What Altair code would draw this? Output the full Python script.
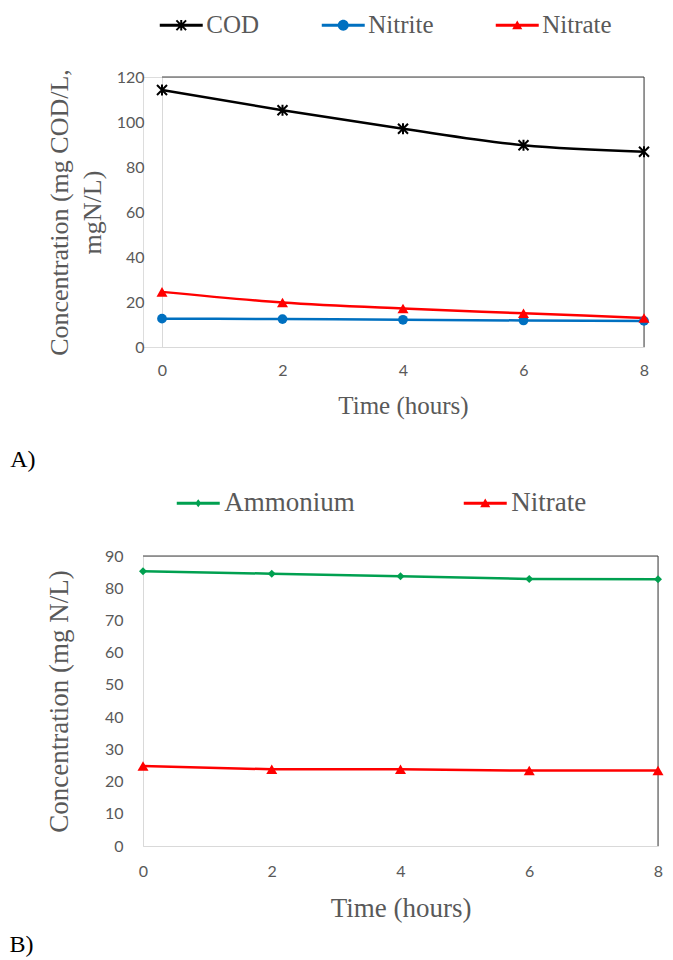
import altair as alt
import pandas as pd

# ---------------- data ----------------
time_h = [0, 2, 4, 6, 8]

a_series = ["COD", "Nitrite", "Nitrate"]
a_colors = ["#000000", "#0070C0", "#FF0000"]
a_cod = [114.2, 105.2, 97.0, 89.7, 86.8]
a_nitrite = [12.6, 12.4, 12.1, 11.8, 11.6]
a_nitrate = [24.5, 19.8, 17.1, 15.0, 12.9]

b_series = ["Ammonium", "Nitrate"]
b_colors = ["#00A050", "#FF0000"]
b_ammonium = [85.3, 84.5, 83.7, 82.9, 82.8]
b_nitrate = [24.8, 23.8, 23.8, 23.4, 23.4]

y_ticks_a = [0, 20, 40, 60, 80, 100, 120]
y_ticks_b = [0, 10, 20, 30, 40, 50, 60, 70, 80, 90]
x_ticks = [0, 2, 4, 6, 8]

SERIF = "Liberation Serif"
SANS = "Lato"
GREY = "#595959"


def frame(series, colors, values):
    rows = []
    for s, c, vals in zip(series, colors, values):
        for t, v in zip(time_h, vals):
            rows.append({"time": t, "value": v, "series": s, "col": c})
    return pd.DataFrame(rows)


df_a = frame(a_series, a_colors, [a_cod, a_nitrite, a_nitrate])
df_b = frame(b_series, b_colors, [b_ammonium, b_nitrate])

# legend symbols: line segment (x from -2 to 2) with the marker in the middle
BAR = "M-2,-0.14H2V0.14H-2Z"
LEG_STAR = (BAR +
            "M-0.384,-0.516L0.516,0.384L0.384,0.516L-0.516,-0.384Z"
            "M-0.516,0.384L0.384,-0.516L0.516,-0.384L-0.384,0.516Z"
            "M-0.093,-0.5L0.093,-0.5L0.093,0.5L-0.093,0.5Z")
LEG_CIRCLE = BAR + "M-0.51,0A0.51,0.51 0 1,1 0.51,0A0.51,0.51 0 1,1 -0.51,0Z"
LEG_TRI = BAR + "M-0.47,0.37L0,-0.44L0.47,0.37Z"
LEG_DIAMOND = BAR + "M0,-0.37L0.28,0L0,0.37L-0.28,0Z"

STAR = "M-1,-1L1,1M-1,1L1,-1M0,-1.1L0,1.1"
LEG_SIZE = 462  # sqrt = 21.5 -> symbol drawn 43 px wide


def panel(df, series, colors, marker_specs, legend_paths, ymax, yticks,
          ytitle, width, x0, height, interp, leg_x, leg_y, leg_font,
          col_pad, tag, tag_offset, tag_dx, ytitle_size, ytitle_pad,
          ylab_pad, xlab_pad, xtitle_pad, xtitle_size, title_lh):
    xscale = alt.Scale(domain=[0, 8], nice=False, range=[x0, width])
    yscale = alt.Scale(domain=[0, ymax], nice=False)
    xaxis = alt.Axis(values=x_ticks, title="Time (hours)", grid=False,
                     ticks=False, domainColor="#d9d9d9", format="d",
                     labelFont=SANS, labelFontSize=16, labelColor=GREY,
                     labelPadding=xlab_pad, titleFont=SERIF,
                     titleFontSize=xtitle_size,
                     titleColor=GREY, titleFontWeight="normal",
                     titlePadding=xtitle_pad, labelFlush=False,
                     labelOverlap=False)
    yaxis = alt.Axis(values=yticks, title=ytitle, grid=False,
                     ticks=False, domainColor="#d9d9d9", format="d",
                     labelFont=SANS, labelFontSize=16, labelColor=GREY,
                     labelPadding=ylab_pad, titleFont=SERIF,
                     titleFontSize=ytitle_size, titleColor=GREY,
                     titleFontWeight="normal", titleLineHeight=title_lh,
                     titlePadding=ytitle_pad, labelFlush=False,
                     labelOverlap=False, offset=-x0)
    x = alt.X("time:Q", scale=xscale, axis=xaxis)
    y = alt.Y("value:Q", scale=yscale, axis=yaxis)
    base = alt.Chart(df)
    # plot frame: top and right edges, drawn through the scales
    edge_df = pd.DataFrame({
        "time": [time_h[0], time_h[-1]], "x2": [time_h[-1], time_h[-1]],
        "value": [ymax, 0], "y2": [ymax, ymax],
    })
    edges = alt.Chart(edge_df).mark_rule(color="#404040", strokeWidth=1).encode(
        x=x, x2="x2:Q", y=y, y2="y2:Q",
    )
    lines = base.mark_line(strokeWidth=2.5, interpolate=interp).encode(
        x=x, y=y,
        stroke=alt.Stroke("col:N", scale=None),
        detail="series:N",
    )
    layers = [lines, edges]
    for s, c, (shape, size, filled, sw) in zip(series, colors, marker_specs):
        pts = base.transform_filter(alt.datum.series == s).mark_point(
            shape=shape, size=size, filled=filled, opacity=1,
            color=c, strokeWidth=sw,
        ).encode(x=x, y=y)
        layers.append(pts)
    leg = alt.Legend(orient="none", legendX=leg_x, legendY=leg_y,
                     direction="horizontal", title=None, padding=0,
                     symbolSize=LEG_SIZE, symbolStrokeWidth=0, labelFont=SERIF,
                     labelFontSize=leg_font, labelColor=GREY,
                     labelOffset=12.5, columnPadding=col_pad, labelLimit=400)
    legend_layer = base.transform_filter("false").mark_point(
        filled=True, opacity=1, size=LEG_SIZE
    ).encode(
        x=x, y=y,
        color=alt.Color("series:N", scale=alt.Scale(domain=series, range=colors),
                        legend=leg, sort=series),
        shape=alt.Shape("series:N",
                        scale=alt.Scale(domain=series, range=legend_paths),
                        legend=leg, sort=series),
    )
    layers.append(legend_layer)
    return alt.layer(*layers).properties(
        width=width, height=height,
        title=alt.TitleParams(tag, orient="bottom", anchor="start",
                              frame="bounds", font=SERIF, fontSize=24,
                              fontWeight="normal", color="#000000",
                              offset=tag_offset, dx=tag_dx),
    )


chart_a = panel(
    df_a, a_series, a_colors,
    [(STAR, 100, False, 2), ("circle", 95, True, 0), ("triangle-up", 121, True, 0)],
    [LEG_STAR, LEG_CIRCLE, LEG_TRI],
    120, y_ticks_a, ["Concentration (mg COD/L,", "mgN/L)"],
    501, 19, 270, "monotone", 25.75, -64.5, 25, 62, "A)", 30, -36, 26, 11,
    18, 15, 15, 25, 33,
)

chart_b = panel(
    df_b, b_series, b_colors,
    [("diamond", 64, True, 0), ("triangle-up", 121, True, 0)],
    [LEG_DIAMOND, LEG_TRI],
    90, y_ticks_b, "Concentration (mg N/L)",
    515, 0, 290, "linear", 41.75, -66.5, 27, 108, "B)", 12, -36, 27, 31,
    20, 17, 16, 27, 33,
)

chart = alt.concat(chart_a, chart_b, columns=1, spacing=16).resolve_scale(
    color="independent", shape="independent"
).resolve_legend(
    color="independent", shape="independent"
).properties(
    padding={"left": 0, "top": 4, "right": 0, "bottom": 0}
).configure_view(
    stroke=None
).configure(background="white")

chart.save("out.html", embed_options={"renderer": "svg", "actions": False})
